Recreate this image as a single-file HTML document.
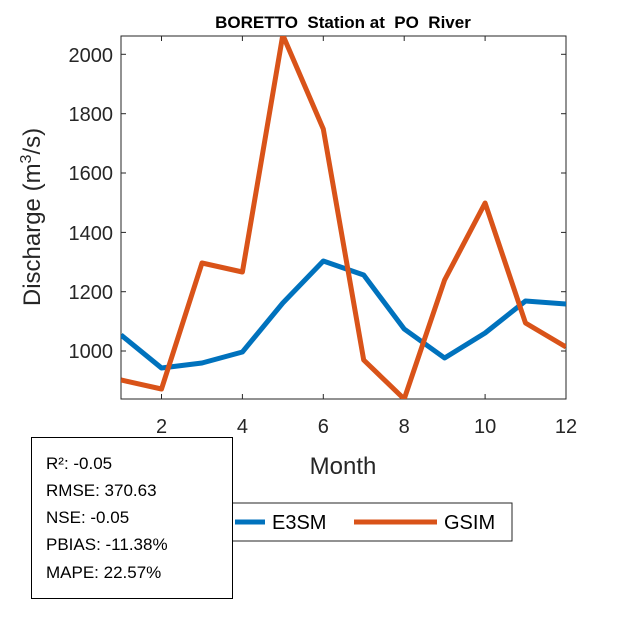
<!DOCTYPE html>
<html><head><style>body{margin:0;background:#fff}</style></head><body>
<svg width="625" height="625" xmlns="http://www.w3.org/2000/svg" font-family="Liberation Sans, Arial, sans-serif">
<rect width="625" height="625" fill="#fff"/>
<text x="343" y="28" font-size="17" font-weight="bold" text-anchor="middle" fill="#000">BORETTO&#160;&#160;Station at&#160;&#160;PO&#160;&#160;River</text>
<g stroke="#262626" stroke-width="1">
<rect x="121" y="36" width="445" height="363" fill="none"/>
<g id="t">
<line x1="161.5" y1="399" x2="161.5" y2="394"/><line x1="242.4" y1="399" x2="242.4" y2="394"/><line x1="323.3" y1="399" x2="323.3" y2="394"/><line x1="404.2" y1="399" x2="404.2" y2="394"/><line x1="485.1" y1="399" x2="485.1" y2="394"/>
<line x1="161.5" y1="36" x2="161.5" y2="41"/><line x1="242.4" y1="36" x2="242.4" y2="41"/><line x1="323.3" y1="36" x2="323.3" y2="41"/><line x1="404.2" y1="36" x2="404.2" y2="41"/><line x1="485.1" y1="36" x2="485.1" y2="41"/>
<line x1="121" y1="351" x2="126" y2="351"/><line x1="121" y1="291.7" x2="126" y2="291.7"/><line x1="121" y1="232.4" x2="126" y2="232.4"/><line x1="121" y1="173" x2="126" y2="173"/><line x1="121" y1="113.7" x2="126" y2="113.7"/><line x1="121" y1="54.3" x2="126" y2="54.3"/>
<line x1="566" y1="351" x2="561" y2="351"/><line x1="566" y1="291.7" x2="561" y2="291.7"/><line x1="566" y1="232.4" x2="561" y2="232.4"/><line x1="566" y1="173" x2="561" y2="173"/><line x1="566" y1="113.7" x2="561" y2="113.7"/><line x1="566" y1="54.3" x2="561" y2="54.3"/>
</g></g>
<g font-size="20" fill="#262626" text-anchor="end">
<text x="113" y="358">1000</text><text x="113" y="299">1200</text><text x="113" y="240">1400</text><text x="113" y="180">1600</text><text x="113" y="121">1800</text><text x="113" y="62">2000</text>
</g>
<g font-size="20" fill="#262626" text-anchor="middle">
<text x="161.5" y="433">2</text><text x="242.4" y="433">4</text><text x="323.3" y="433">6</text><text x="404.2" y="433">8</text><text x="485.1" y="433">10</text><text x="566" y="433">12</text>
</g>
<text x="343" y="474" font-size="24" fill="#262626" text-anchor="middle">Month</text>
<text transform="translate(40,217) rotate(-90)" font-size="24" fill="#262626" text-anchor="middle">Discharge (m<tspan font-size="16" dy="-9">3</tspan><tspan dy="9">/s)</tspan></text>
<svg x="121" y="36" width="445" height="363" overflow="hidden">
<g transform="translate(-121,-36)" fill="none" stroke-width="5" stroke-linejoin="round">
<polyline stroke="#0072BD" points="121,335 161.5,368 202,363 242.4,352 282.8,303 323.3,261 363.7,275 404.2,329 444.6,358 485.1,333 525.5,301 566,304"/>
<polyline stroke="#D95319" points="121,380 161.5,389 202,263 242.4,272 282.8,35 323.3,129 363.7,360 404.2,399 444.6,280 485.1,203 525.5,323 566,347"/>
</g></svg>
<rect x="200" y="503" width="312" height="38" fill="#fff" stroke="#262626"/>
<line x1="235" y1="522" x2="265" y2="522" stroke="#0072BD" stroke-width="5"/>
<text x="272" y="529" font-size="20" fill="#000">E3SM</text>
<line x1="354" y1="522" x2="437" y2="522" stroke="#D95319" stroke-width="5"/>
<text x="444" y="529" font-size="20" fill="#000">GSIM</text>
<rect x="31.5" y="437.5" width="201" height="161" fill="#fff" stroke="#000"/>
<g font-size="17" fill="#000">
<text x="46" y="469">R²: -0.05</text><text x="46" y="496">RMSE: 370.63</text><text x="46" y="523">NSE: -0.05</text><text x="46" y="550">PBIAS: -11.38%</text><text x="46" y="578">MAPE: 22.57%</text>
</g>
</svg>
</body></html>
